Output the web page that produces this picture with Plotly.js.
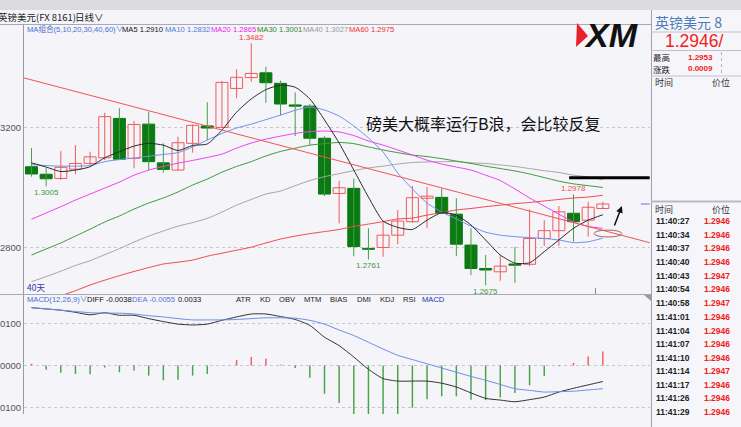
<!DOCTYPE html>
<html><head><meta charset="utf-8">
<script src="https://cdn.plot.ly/plotly-3.0.1.min.js"></script>
<style>html,body{margin:0;padding:0;background:#f4f4f9;}#c{width:741px;height:427px;}</style>
</head><body><div id="c"></div>
<script>
// ---------- data ----------
const days  = [1,2,3,4,5,6,7,8,9,10,11,12,13,14,15,16,17,18,19,20,21,22,23,24,25,26,27,28,29,30,31,32,33,34,35,36,37,38,39,40];
const open  = [1.3070,1.3045,1.3031,1.3062,1.3081,1.3100,1.3231,1.3098,1.3212,1.3083,1.3059,1.3148,1.3206,1.3201,1.3331,1.3367,1.3383,1.3348,1.3276,1.3272,1.3165,1.2981,1.2998,1.2798,1.2801,1.2842,1.2887,1.2965,1.2968,1.2912,1.2809,1.2731,1.2720,1.2746,1.2745,1.2831,1.2857,1.2915,1.2892,1.2931];
const high  = [1.3132,1.3066,1.3122,1.3142,1.3120,1.3250,1.3265,1.3223,1.3253,1.3148,1.3170,1.3211,1.3285,1.3356,1.3395,1.3482,1.3403,1.3357,1.3318,1.3279,1.3172,1.3023,1.3031,1.2865,1.2887,1.2926,1.3006,1.3003,1.2998,1.2965,1.2865,1.2776,1.2776,1.2803,1.2928,1.2892,1.2939,1.2978,1.2953,1.2953];
const low   = [1.3037,1.3005,1.3026,1.3046,1.3076,1.3092,1.3092,1.3065,1.3059,1.3050,1.3057,1.3117,1.3159,1.3199,1.3298,1.3353,1.3283,1.3242,1.3172,1.3142,1.2972,1.2881,1.2772,1.2761,1.2770,1.2812,1.2883,1.2865,1.2912,1.2772,1.2709,1.2675,1.2690,1.2683,1.2739,1.2806,1.2806,1.2820,1.2837,1.2931];
const close = [1.3046,1.3030,1.3068,1.3081,1.3103,1.3237,1.3095,1.3211,1.3087,1.3061,1.3150,1.3208,1.3199,1.3351,1.3368,1.3381,1.3350,1.3279,1.3272,1.3165,1.2979,1.3000,1.2804,1.2795,1.2842,1.2889,1.2967,1.2972,1.2915,1.2812,1.2731,1.2726,1.2739,1.2742,1.2831,1.2857,1.2920,1.2887,1.2935,1.2946];

const ma5  = [1.3083,1.3069,1.3054,1.3059,1.3070,1.3100,1.3120,1.3139,1.3148,1.3142,1.3124,1.3141,1.3146,1.3192,1.3252,1.3296,1.3327,1.3342,1.3335,1.3296,1.3226,1.3149,1.3059,1.2969,1.2889,1.2868,1.2861,1.2892,1.2917,1.2909,1.2876,1.2826,1.2776,1.2749,1.2750,1.2787,1.2826,1.2865,1.2892,1.2910];
const ma10 = [1.3077,1.3074,1.3072,1.3072,1.3074,1.3087,1.3094,1.3099,1.3105,1.3111,1.3117,1.3136,1.3159,1.3181,1.3199,1.3212,1.3227,1.3242,1.3258,1.3269,1.3259,1.3239,1.3206,1.3166,1.3119,1.3049,1.2996,1.2949,1.2919,1.2896,1.2872,1.2852,1.2842,1.2837,1.2834,1.2831,1.2826,1.2817,1.2820,1.2832];
const ma20 = [1.2895,1.2916,1.2937,1.2959,1.2979,1.2999,1.3019,1.3042,1.3059,1.3071,1.3082,1.3091,1.3101,1.3112,1.3132,1.3149,1.3162,1.3172,1.3181,1.3187,1.3189,1.3186,1.3174,1.3156,1.3142,1.3126,1.3109,1.3092,1.3079,1.3069,1.3059,1.3042,1.3024,1.2996,1.2966,1.2939,1.2912,1.2886,1.2871,1.2865];
const ma30 = [1.2776,1.2796,1.2816,1.2839,1.2862,1.2886,1.2906,1.2929,1.2949,1.2966,1.2986,1.3009,1.3029,1.3052,1.3071,1.3087,1.3106,1.3121,1.3132,1.3142,1.3147,1.3151,1.3147,1.3136,1.3126,1.3117,1.3109,1.3104,1.3097,1.3089,1.3081,1.3072,1.3064,1.3056,1.3046,1.3034,1.3022,1.3013,1.3007,1.3001];
const ma40 = [1.2687,1.2704,1.2722,1.2741,1.2757,1.2777,1.2797,1.2819,1.2839,1.2856,1.2872,1.2884,1.2898,1.2919,1.2942,1.2961,1.2979,1.2989,1.3007,1.3024,1.3037,1.3047,1.3057,1.3066,1.3072,1.3079,1.3084,1.3086,1.3087,1.3087,1.3083,1.3081,1.3076,1.3071,1.3064,1.3057,1.3051,1.3042,1.3036,1.3027];
const ma60 = [1.2606,1.2622,1.2640,1.2657,1.2676,1.2692,1.2707,1.2721,1.2734,1.2746,1.2752,1.2759,1.2772,1.2782,1.2792,1.2802,1.2816,1.2829,1.2839,1.2847,1.2854,1.2861,1.2871,1.2879,1.2887,1.2896,1.2899,1.2909,1.2917,1.2926,1.2931,1.2937,1.2942,1.2947,1.2951,1.2956,1.2961,1.2966,1.2969,1.2975];

const trendX  = [0.49, 43.2];
const trendY  = [1.3366, 1.2817];
const resistX = [37.7, 43.2];
const resistY = [1.3033, 1.3033];
const lastX   = [42.6, 43.2];
const lastY   = [1.2946, 1.2946];

const diff = [0.0137,0.0134,0.0131,0.0126,0.0120,0.0125,0.0119,0.0119,0.0111,0.0104,0.0098,0.0096,0.0098,0.0107,0.0115,0.0122,0.0122,0.0116,0.0109,0.0095,0.0067,0.0047,0.0020,-0.0009,-0.0031,-0.0037,-0.0037,-0.0037,-0.0042,-0.0051,-0.0065,-0.0078,-0.0082,-0.0086,-0.0081,-0.0075,-0.0063,-0.0054,-0.0046,-0.0038];
const dea  = [0.0137,0.0134,0.0131,0.0128,0.0125,0.0124,0.0124,0.0122,0.0118,0.0115,0.0111,0.0108,0.0108,0.0108,0.0109,0.0111,0.0113,0.0113,0.0112,0.0107,0.0098,0.0084,0.0071,0.0055,0.0039,0.0024,0.0014,0.0004,-0.0006,-0.0016,-0.0026,-0.0035,-0.0045,-0.0055,-0.0059,-0.0063,-0.0062,-0.0061,-0.0058,-0.0055];
const macd = [0.0004,-0.0010,-0.0017,-0.0020,-0.0021,-0.0005,-0.0016,-0.0012,-0.0024,-0.0035,-0.0034,-0.0024,-0.0020,0.0000,0.0013,0.0020,0.0016,0.0002,-0.0006,-0.0029,-0.0067,-0.0089,-0.0130,-0.0140,-0.0135,-0.0125,-0.0100,-0.0080,-0.0073,-0.0073,-0.0081,-0.0082,-0.0076,-0.0065,-0.0047,-0.0025,-0.0002,0.0006,0.0021,0.0033];

const priceTicks = [1.32, 1.28];
const macdTicks  = [0.01, 0, -0.01];
const tickTimes  = ['11:40:27','11:40:34','11:40:37','11:40:40','11:40:43','11:40:54','11:40:58','11:41:01','11:41:04','11:41:07','11:41:10','11:41:14','11:41:17','11:41:26','11:41:29'];
const tickPrices = [1.2946,1.2946,1.2946,1.2946,1.2947,1.2946,1.2947,1.2946,1.2946,1.2946,1.2946,1.2947,1.2946,1.2946,1.2946];

// ---------- styling ----------
const W = 741, H = 427, BG = '#f4f4f9';
const RED = '#ef5b5b', GFILL = '#0b7a12', GWICK = '#45a045';
const SANS = 'Liberation Sans, Arial, Noto Sans CJK SC, sans-serif';
const CJK = 'Noto Sans CJK SC, sans-serif';
const px = x => x / W, py = y => 1 - y / H;

const up = days.map((d, i) => close[i] >= open[i]);
const traces = [];

function wick(sel, color) {
  const xs = [], ys = [];
  days.forEach((d, i) => { if (sel(i)) { xs.push(d, d, null); ys.push(low[i], high[i], null); } });
  return {x: xs, y: ys, type: 'scatter', mode: 'lines', line: {color: color, width: 1}, hoverinfo: 'skip', xaxis: 'x', yaxis: 'y'};
}
traces.push(wick(i => up[i], RED));
traces.push(wick(i => !up[i], GWICK));
traces.push({
  type: 'bar', x: days, xaxis: 'x', yaxis: 'y',
  base: days.map((d, i) => Math.min(open[i], close[i])),
  y: days.map((d, i) => Math.abs(close[i] - open[i])),
  width: 0.82,
  marker: {color: up.map(u => u ? BG : GFILL), line: {color: up.map(u => u ? RED : GFILL), width: 1}},
  hoverinfo: 'skip'
});
const maLine = (y, c) => ({x: days, y: y, type: 'scatter', mode: 'lines', line: {color: c, width: 1, shape: 'spline', smoothing: 0.6}, hoverinfo: 'skip', xaxis: 'x', yaxis: 'y'});
traces.push(maLine(ma60, '#f04a4a'));
traces.push(maLine(ma40, '#a6a6a6'));
traces.push(maLine(ma30, '#3d9a3d'));
traces.push(maLine(ma20, '#f040f0'));
traces.push(maLine(ma10, '#7090ee'));
traces.push(maLine(ma5, '#2a2a2a'));
traces.push({x: trendX, y: trendY, type: 'scatter', mode: 'lines', line: {color: '#f05555', width: 1}, hoverinfo: 'skip', xaxis: 'x', yaxis: 'y'});
traces.push({x: resistX, y: resistY, type: 'scatter', mode: 'lines', line: {color: '#000', width: 3}, hoverinfo: 'skip', xaxis: 'x', yaxis: 'y', cliponaxis: false});
traces.push({x: lastX, y: lastY, type: 'scatter', mode: 'lines', line: {color: '#6677dd', width: 1}, hoverinfo: 'skip', xaxis: 'x', yaxis: 'y'});
traces.push({type: 'bar', x: days, y: macd, width: 0.1, xaxis: 'x2', yaxis: 'y2',
  marker: {color: macd.map(v => v >= 0 ? '#f06060' : '#4aa24a'), line: {width: 0}}, hoverinfo: 'skip'});
traces.push({x: days, y: diff, type: 'scatter', mode: 'lines', line: {color: '#333', width: 1, shape: 'spline', smoothing: 0.6}, xaxis: 'x2', yaxis: 'y2', hoverinfo: 'skip'});
traces.push({x: days, y: dea, type: 'scatter', mode: 'lines', line: {color: '#6d8ee8', width: 1, shape: 'spline', smoothing: 0.6}, xaxis: 'x2', yaxis: 'y2', hoverinfo: 'skip'});

// ---------- annotations ----------
const ann = [];
function T(text, x, y, size, color, xa, fam, weight) {
  ann.push({xref: 'paper', yref: 'paper', x: px(x), y: py(y), text: text, showarrow: false,
    xanchor: xa || 'left', yanchor: 'middle', font: {family: fam || SANS, size: size, color: color, weight: weight || 400}, borderpad: 0});
}
T('英镑美元(FX 8161)', -3, 17, 9.5, '#222', 'left', CJK);
T('日线∨', 74, 17, 9.5, '#222', 'left', CJK);
const LEGY = 29.5;
T('MA组合(5,10,20,30,40,60)∨', 26, LEGY, 7.6, '#4a6fd0');
T('MA5 ' + ma5[39].toFixed(4), 121, LEGY, 7.6, '#111');
T('MA10 ' + ma10[39].toFixed(4), 164, LEGY, 7.6, '#5577dd');
T('MA20 ' + ma20[39].toFixed(4), 210, LEGY, 7.6, '#ee22ee');
T('MA30 ' + ma30[39].toFixed(4), 256, LEGY, 7.6, '#2d8a2d');
T('MA40 ' + ma40[39].toFixed(4), 302, LEGY, 7.6, '#999');
T('MA60 ' + ma60[39].toFixed(4), 348, LEGY, 7.6, '#f03030');
const dl = (i, above, color) => ann.push({xref: 'x', yref: 'y', x: days[i], y: above ? high[i] : low[i], text: (above ? high[i] : low[i]).toFixed(4),
  showarrow: false, yanchor: above ? 'bottom' : 'top', yshift: above ? 0 : -1, borderpad: 0, font: {family: SANS, size: 8, color: color}});
dl(15, true, '#f03a3a'); dl(37, true, '#f05050');
dl(1, false, '#3f9b3f'); dl(23, false, '#3f9b3f'); dl(31, false, '#3f9b3f');
T('40天', 26, 287, 8.5, '#3333aa', 'left', CJK);
T('磅美大概率运行B浪，会比较反复', 484, 123, 16, '#111', 'center', CJK);
ann.push({xref: 'x', yref: 'y', x: 41.3, y: 1.2939, ax: -8, ay: 21, showarrow: true, arrowhead: 2, arrowsize: 0.9, arrowwidth: 1.5, arrowcolor: '#111', text: ''});
T('<b><i>XM</i></b>', 611, 35, 34, '#111', 'center', 'Liberation Sans, Arial, sans-serif');
T('MACD(12,26,9)∨', 26, 299, 7.6, '#4a6fd0');
T('DIFF ' + diff[39].toFixed(4), 86, 299, 7.6, '#111');
T('DEA ' + dea[39].toFixed(4), 131, 299, 7.6, '#5577dd');
T(macd[39].toFixed(4), 177, 299, 7.6, '#111');
[['ATR',243.5],['KD',265],['OBV',287.5],['MTM',312.5],['BIAS',338.7],['DMI',364],['KDJ',387],['RSI',409.5],['MACD',433.5]].forEach(([t, x]) =>
  T(t, x, 299, 7.6, t === 'MACD' ? '#2233bb' : '#222', 'center'));
T('英镑美元 8', 654, 22, 14, '#4a7ab8', 'left', CJK);
T('1.2946/', 664, 41, 17.5, '#f21d1d', 'left');
T('最高', 652, 57, 8.5, '#222', 'left', CJK);
T('涨跌', 652, 69, 8.5, '#222', 'left', CJK);
T('1.2953', 714, 57, 8, '#f02020', 'right', SANS, 700);
T('0.0009', 714, 69, 8, '#f02020', 'right', SANS, 700);
T('时间', 654, 82, 9, '#333', 'left', CJK);
T('价位', 711, 82, 9, '#333', 'left', CJK);
T('时间', 654, 209, 9, '#333', 'left', CJK);
T('价位', 711, 209, 9, '#333', 'left', CJK);
const rowY = [220.7,235,248.3,262.3,276,289.3,303.3,316.7,330.7,344,357.7,371,385,398.3,412.3];
tickTimes.forEach((t, i) => {
  T(t, 655, rowY[i], 8.5, '#222', 'left', SANS, 700);
  T(tickPrices[i].toFixed(4), 703, rowY[i], 8.5, '#f02020', 'left', SANS, 700);
});

// ---------- shapes ----------
const L = (x0, y0, x1, y1, c, w, dash) => ({type: 'line', xref: 'paper', yref: 'paper', x0: px(x0), y0: py(y0), x1: px(x1), y1: py(y1), line: {color: c, width: w || 1, dash: dash || 'solid'}});
const shapes = [
  {type: 'rect', xref: 'paper', yref: 'paper', x0: 0, x1: 1, y0: py(10), y1: 1, fillcolor: '#dcdce0', line: {width: 0}, layer: 'below'},
  {type: 'rect', xref: 'paper', yref: 'paper', x0: px(651), x1: 1, y0: 0, y1: py(10), fillcolor: '#f6f6fa', line: {width: 0}, layer: 'below'},
  L(0, 24.5, 651, 24.5, '#a9a9b4'),
  L(0, 294.5, 651, 294.5, '#a9a9b4'),
  L(651.5, 10, 651.5, 427, '#a0a0b0'),
  L(651, 32, 741, 32, '#c0c0cc'),
  L(651, 50.5, 741, 50.5, '#c0c0cc'),
  L(651, 76, 741, 76, '#c0c0cc'),
  L(721.5, 52, 721.5, 75, '#b0b0bc', 1, 'dot'),
  L(651, 201.5, 741, 201.5, '#b8b8c8', 2),
  L(595.5, 288, 595.5, 294, '#888'),
  {type: 'path', xref: 'paper', yref: 'paper', path: `M ${px(644)} ${py(295)} L ${px(651)} ${py(295)} L ${px(651)} ${py(301)} Z`, fillcolor: '#999', line: {width: 0}},
  {type: 'path', xref: 'paper', yref: 'paper', path: `M ${px(577)} ${py(23)} L ${px(588)} ${py(36)} L ${px(576)} ${py(47)} Z`, fillcolor: '#e8202a', line: {width: 0}},
  {type: 'circle', xref: 'x', yref: 'y', x0: 39.4, x1: 41.3, y0: 1.2836, y1: 1.2859, line: {color: '#b06060', width: 1}}
];

const layout = {
  width: W, height: H, margin: {l: 0, r: 0, t: 0, b: 0},
  paper_bgcolor: BG, plot_bgcolor: BG, showlegend: false, barmode: 'overlay',
  font: {family: SANS},
  xaxis: {domain: [px(24), px(650)], range: [0.488, 43.22], visible: false, fixedrange: true},
  xaxis2: {domain: [px(24), px(650)], range: [0.488, 43.22], visible: false, anchor: 'y2', matches: 'x'},
  yaxis: {domain: [py(294), py(24.5)], range: [1.2646, 1.3544], tickvals: priceTicks, ticktext: priceTicks.map(v => v.toFixed(4)),
    tickfont: {size: 9.5, color: '#555'}, showgrid: true, gridcolor: '#c6c6d0', griddash: 'dot', zeroline: false,
    showline: true, linecolor: '#9a9aa6', ticks: '', anchor: 'x'},
  yaxis2: {domain: [py(414), py(295)], range: [-0.0115, 0.0167], tickvals: macdTicks, ticktext: macdTicks.map(v => v.toFixed(4)),
    tickfont: {size: 9.5, color: '#555'}, showgrid: true, gridcolor: '#c6c6d0', griddash: 'dot', zeroline: false,
    showline: true, linecolor: '#9a9aa6', ticks: '', anchor: 'x2'},
  annotations: ann, shapes: shapes
};
Plotly.newPlot('c', traces, layout, {staticPlot: true, displayModeBar: false});
</script></body></html>
